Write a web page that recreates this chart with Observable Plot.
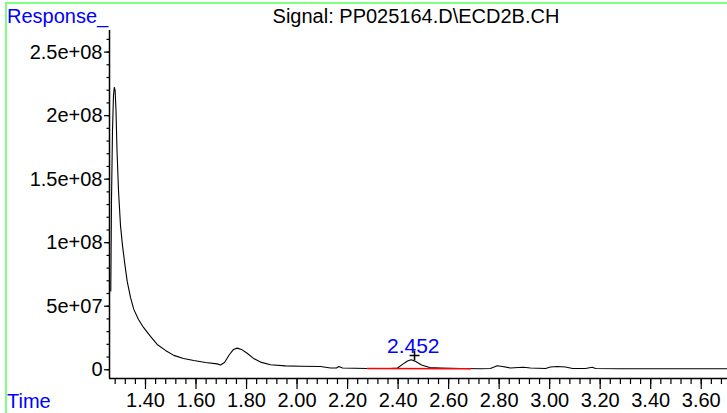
<!DOCTYPE html>
<html>
<head>
<meta charset="utf-8">
<script src="https://cdn.jsdelivr.net/npm/d3@7"></script>
<script src="https://cdn.jsdelivr.net/npm/@observablehq/plot@0.6"></script>
<style>
  html, body { margin: 0; padding: 0; background: #fff; }
  #wrap { position: relative; width: 727px; height: 413px; overflow: hidden; font-family: Arial, "Liberation Sans", sans-serif; }
  #wrap svg { position: absolute; left: 0; top: 0; }
  .lbl { position: absolute; font-size: 20px; line-height: 20px; white-space: nowrap; }
  #bt { position: absolute; left: 5px; top: 2px; width: 722px; height: 2px; background: #80ff80; }
  #bl { position: absolute; left: 5px; top: 2px; width: 2px; height: 411px; background: #80ff80; }
</style>
</head>
<body>
<div id="wrap">
  <div id="bt"></div><div id="bl"></div>
</div>
<script>
// Chromatogram trace (time in min, response)
const times = [1.2626, 1.2654, 1.2694, 1.2733, 1.2765, 1.2797, 1.2832, 1.2872, 1.2931, 1.3010,
  1.3089, 1.3188, 1.3276, 1.3406, 1.3537, 1.3723, 1.3921, 1.4198, 1.4463, 1.4792,
  1.5120, 1.5504, 1.5912, 1.6375, 1.6838, 1.6969, 1.7127, 1.7325, 1.7484, 1.7630,
  1.7800, 1.8038, 1.8275, 1.8553, 1.8949, 1.9542, 2.0136, 2.0928, 2.1323, 2.1561,
  2.1652, 2.1799, 2.2777, 2.3699, 2.3976, 2.4174, 2.4372, 2.4520, 2.4700, 2.4930,
  2.5250, 2.5679, 2.6470, 2.7257, 2.7653, 2.7923, 2.8133, 2.8449, 2.8766, 2.8964,
  2.9241, 2.9835, 3.0033, 3.0298, 3.0627, 3.0904, 3.1419, 3.1684, 3.1815, 3.2804,
  3.4388, 3.5971, 3.7040];
const responses = [6.2e7, 1.333e8, 1.884e8, 2.160e8, 2.223e8, 2.199e8, 2.042e8, 1.727e8, 1.412e8, 1.136e8,
  9.79e7, 8.21e7, 6.95e7, 5.69e7, 4.75e7, 3.96e7, 3.33e7, 2.62e7, 1.99e7, 1.52e7,
  1.13e7, 8.9e6, 7.3e6, 5.7e6, 4.6e6, 3.8e6, 5.7e6, 1.20e7, 1.60e7, 1.70e7,
  1.60e7, 1.28e7, 8.9e6, 6.0e6, 3.9e6, 3.0e6, 2.8e6, 2.6e6, 1.4e6, 1.4e6,
  2.6e6, 1.4e6, 1.0e6, 1.0e6, 1.4e6, 4.2e6, 6.9e6, 7.9e6, 6.5e6, 3.8e6,
  1.8e6, 1.4e6, 1.0e6, 0.8e6, 1.0e6, 3.1e6, 2.6e6, 1.4e6, 1.8e6, 2.0e6,
  1.4e6, 1.0e6, 2.2e6, 2.6e6, 2.2e6, 1.0e6, 1.0e6, 2.0e6, 1.0e6, 0.8e6,
  0.8e6, 0.8e6, 0.8e6];

// Integrated peak
const peakTimes = [2.452];
const peakHeights = [7.9e6];
const peakLabels = ["2.452"];
const markerTimes = [2.465];
const markerHeights = [1.12e7];
const baselineTimes = [2.278, 2.687];
const baselineValues = [1.0e6, 0.8e6];

// Axes
const xDomain = [1.2575, 3.704];
const yDomain = [-6.9e6, 2.67e8];
const xMajor = [1.40, 1.60, 1.80, 2.00, 2.20, 2.40, 2.60, 2.80, 3.00, 3.20, 3.40, 3.60];
const xMajorLabels = ["1.40", "1.60", "1.80", "2.00", "2.20", "2.40", "2.60", "2.80", "3.00", "3.20", "3.40", "3.60"];
const xMinor = d3.range(0, 61).map(i => +(1.28 + i * 0.04).toFixed(2));
const yMajor = [0, 5e7, 1e8, 1.5e8, 2e8, 2.5e8];
const yMajorLabels = ["0", "5e+07", "1e+08", "1.5e+08", "2e+08", "2.5e+08"];
const yMinor = d3.range(0, 27).map(i => i * 1e7);

const trace = times.map((t, i) => ({t, v: responses[i]}));
const peaks = peakTimes.map((t, i) => ({t, v: peakHeights[i], label: peakLabels[i]}));
const markers = markerTimes.map((t, i) => ({t, v: markerHeights[i]}));
const baseline = baselineTimes.map((t, i) => ({t, v: baselineValues[i]}));

const chart = Plot.plot({
  width: 727,
  height: 413,
  marginLeft: 109,
  marginRight: 0,
  marginTop: 30,
  marginBottom: 35,
  style: {fontFamily: 'Arial, "Liberation Sans", sans-serif', fontSize: "20px", background: "transparent", overflow: "visible"},
  x: {domain: xDomain},
  y: {domain: yDomain},
  marks: [
    Plot.axisX({ticks: xMinor, tickSize: 6, tickFormat: () => "", label: null, strokeWidth: 1.2}),
    Plot.axisX({ticks: xMajor, tickSize: 11, tickPadding: 3, tickFormat: d => xMajorLabels[xMajor.indexOf(d)], label: null, fontSize: 20, strokeWidth: 1.2}),
    Plot.axisY({ticks: yMinor, tickSize: 2.5, tickFormat: () => "", label: null, strokeWidth: 1.2}),
    Plot.axisY({ticks: yMajor, tickSize: 5, tickPadding: 2, tickFormat: d => yMajorLabels[yMajor.indexOf(d)], label: null, fontSize: 20, strokeWidth: 1.2}),
    Plot.ruleX([xDomain[0]], {stroke: "black", strokeWidth: 1.5}),
    Plot.ruleY([yDomain[0]], {stroke: "black", strokeWidth: 1.5}),
    Plot.line(trace, {x: "t", y: "v", stroke: "black", strokeWidth: 1.1}),
    Plot.line(baseline, {x: "t", y: "v", stroke: "#ff0000", strokeWidth: 1.5}),
    Plot.text(peaks, {x: "t", y: "v", text: "label", fill: "#0000ff", fontSize: 21, dy: -13, dx: 2}),
    Plot.dot(markers, {x: "t", y: "v", symbol: "plus", r: 3.3, stroke: "black", strokeWidth: 1.6})
  ]
});

const wrap = document.getElementById("wrap");
wrap.appendChild(chart);

function addLabel(text, left, top, color, center) {
  const d = document.createElement("div");
  d.className = "lbl";
  d.textContent = text;
  d.style.left = left + "px";
  d.style.top = top + "px";
  d.style.color = color;
  if (center) d.style.transform = "translateX(-50%)";
  wrap.appendChild(d);
}
addLabel("Response_", 7, 6, "#0000ff", false);
addLabel("Signal: PP025164.D\\ECD2B.CH", 416, 6, "#000000", true);
addLabel("Time", 7, 391, "#0000ff", false);
</script>
</body>
</html>
